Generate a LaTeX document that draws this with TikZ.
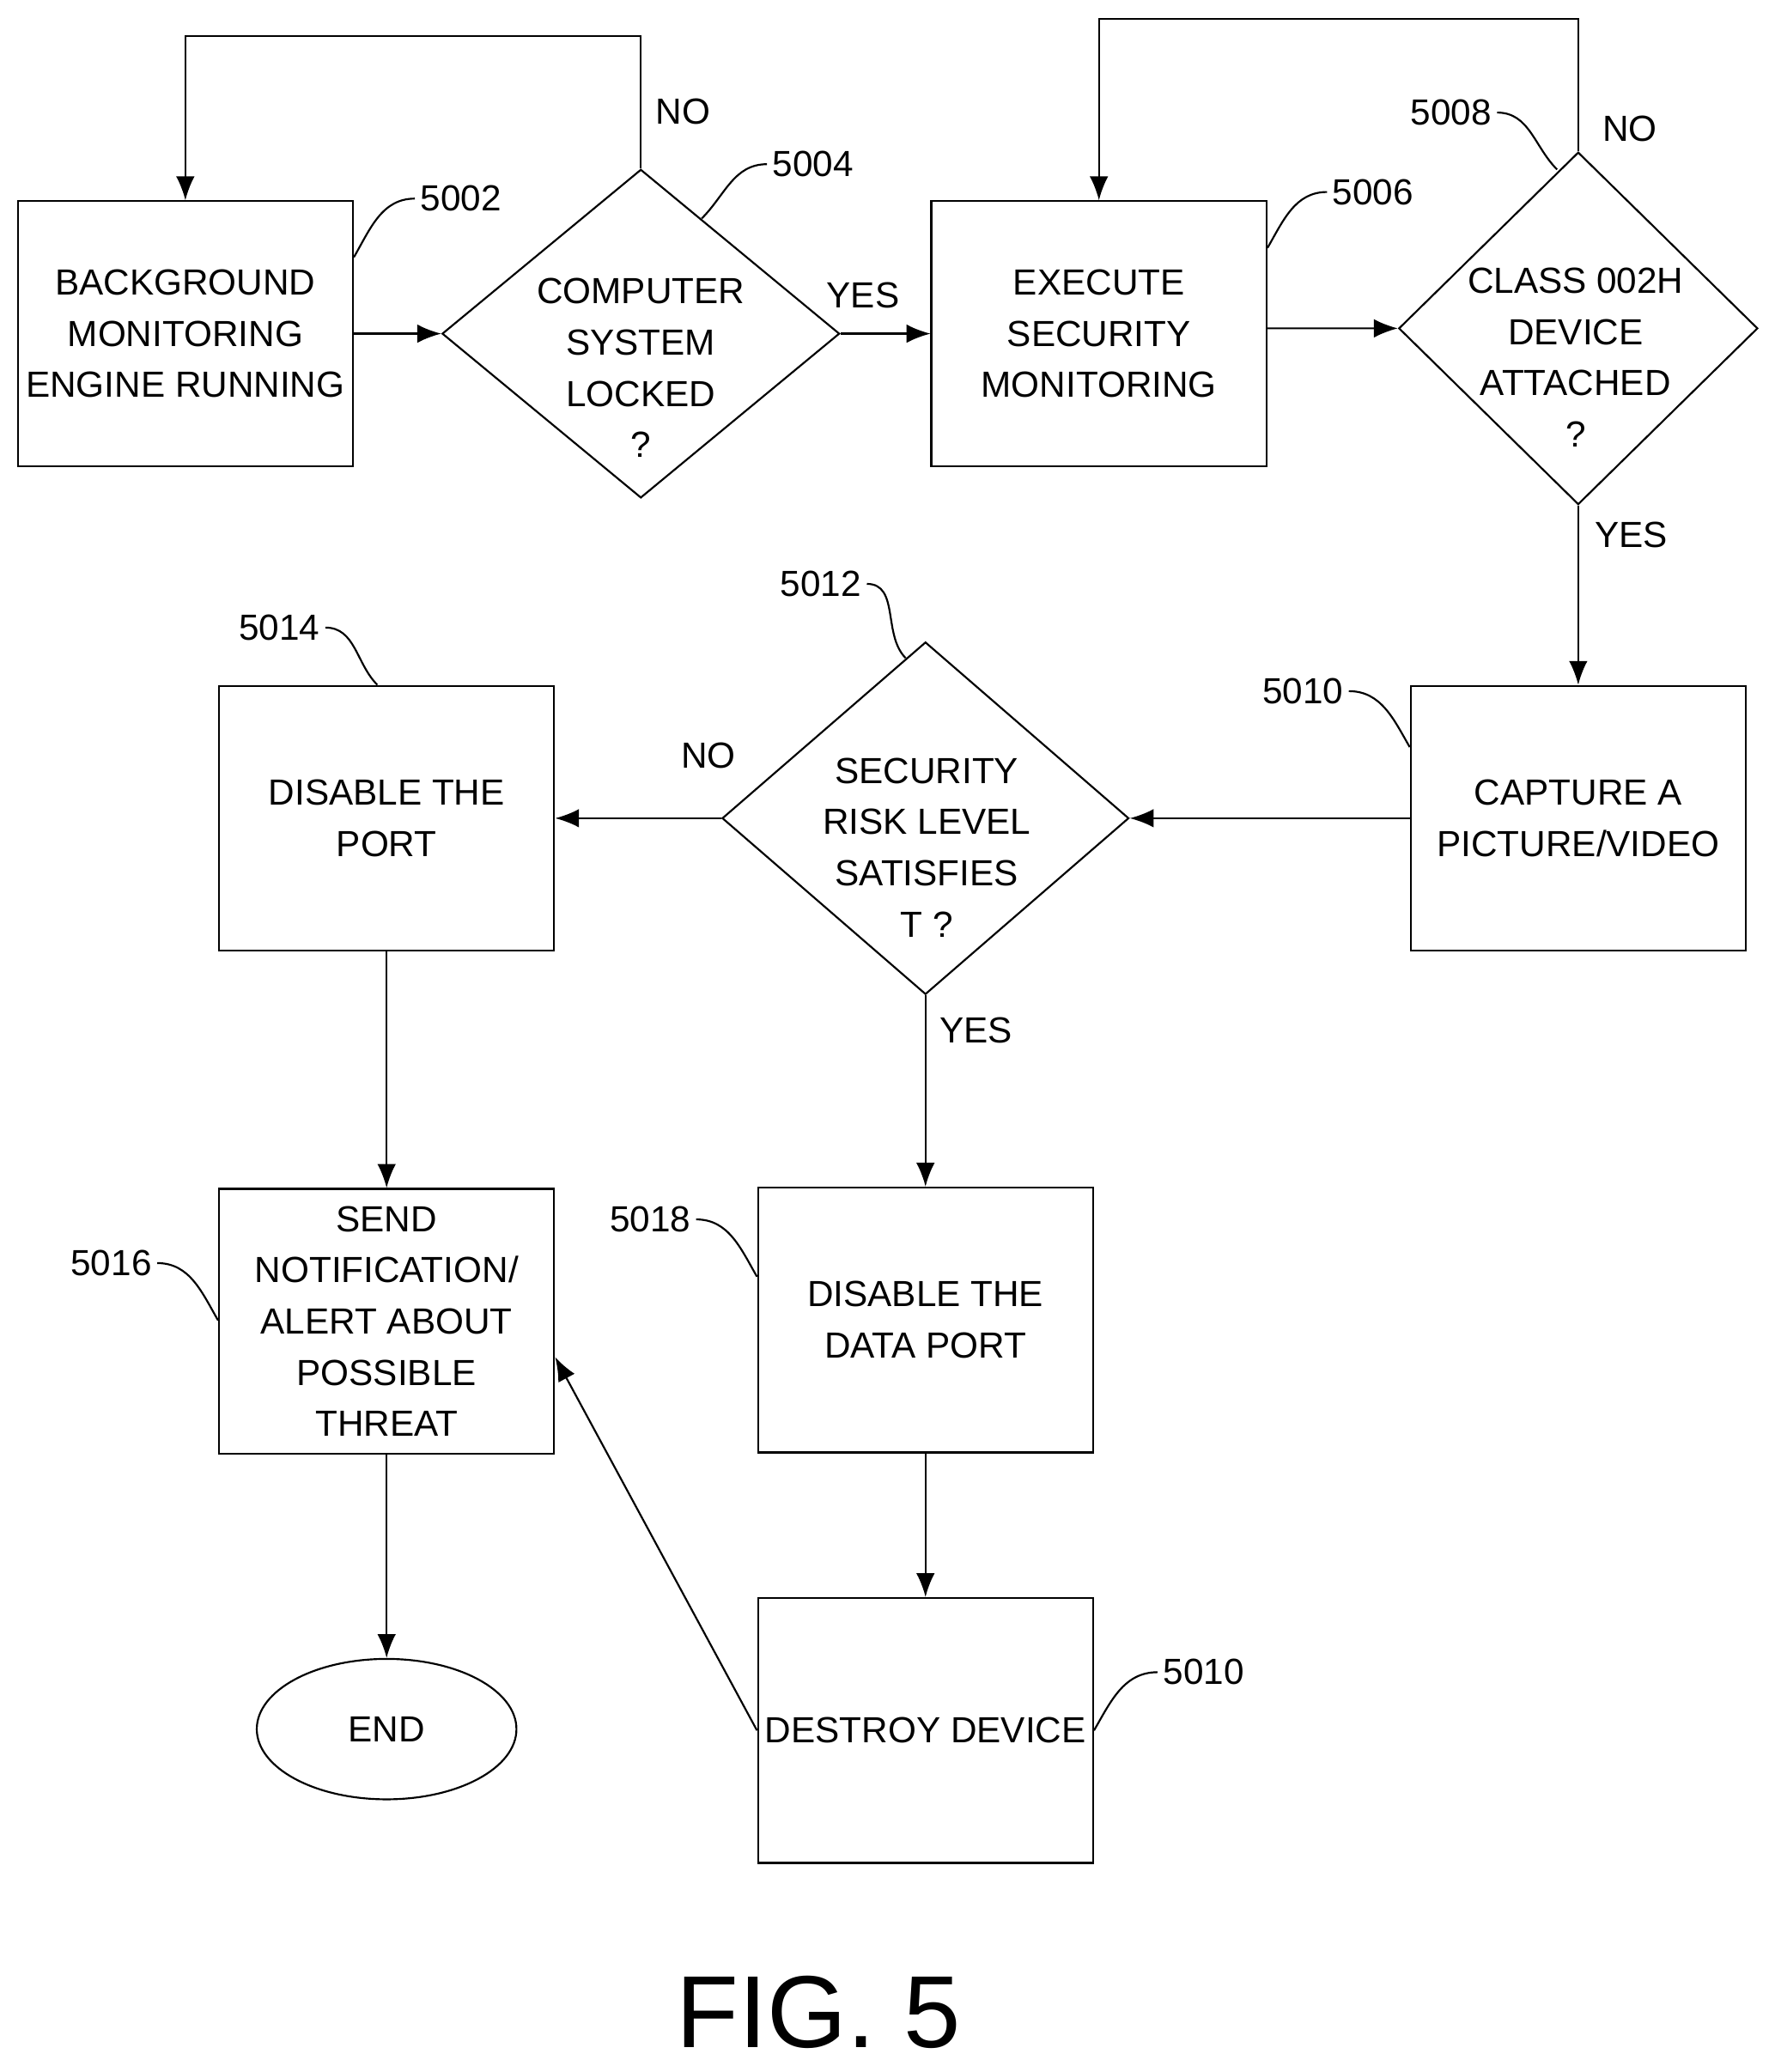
\documentclass[tikz,border=0pt]{standalone}
\usepackage{fontspec}
\setmainfont{Liberation Sans}
\usetikzlibrary{shapes.geometric,arrows.meta}

\begin{document}
\begin{tikzpicture}[x=0.01cm, y=-0.01cm,
	box/.style={rectangle, draw=black, minimum width=2.53cm, minimum height=2cm, inner sep=1pt, align=center, font=\fontsize{7.8}{11}\selectfont},
	dia/.style={diamond, draw=black, inner sep=0pt},
	txt/.style={align=center, font=\fontsize{7.8}{11}\selectfont},
	ref/.style={font=\fontsize{7.8}{10}\selectfont, inner sep=1pt},
	lead/.style={draw=black},
	arr/.style={-{Latex[length=1.8mm,width=1.4mm]}}
	]
	\useasboundingbox (0,0) rectangle (1340,1565);

	\node (monitor) [box] at (140,252) {BACKGROUND\\MONITORING\\ENGINE RUNNING};
	\node (locked) [dia, minimum width=3cm, minimum height=2.48cm] at (484,252) {};
		\node (lockedtxt) [txt] at (484,278) {COMPUTER\\SYSTEM\\LOCKED\\?};
	\node (execute) [box] at (830,252) {EXECUTE\\SECURITY\\MONITORING};
	\node (classdev) [dia, minimum width=2.71cm, minimum height=2.66cm] at (1192,248) {};
		\node (classdevtxt) [txt] at (1190,270) {CLASS 002H\\DEVICE\\ATTACHED\\?};
	\node (capture) [box] at (1192,618) {CAPTURE A\\PICTURE/VIDEO};
	\node (risk) [dia, minimum width=3.07cm, minimum height=2.66cm] at (699,618) {};
		\node (risktxt) [txt] at (700,640) {SECURITY\\RISK LEVEL\\SATISFIES\\T ?};
	\node (disport) [box] at (292,618) {DISABLE THE\\PORT};
	\node (notify) [box] at (292,998) {SEND\\NOTIFICATION/\\ALERT ABOUT\\POSSIBLE\\THREAT};
	\node (disdata) [box] at (699,997) {DISABLE THE\\DATA PORT};
	\node (destroy) [box] at (699,1307) {DESTROY DEVICE};
	\node (end) [ellipse, draw=black, minimum width=1.96cm, minimum height=1.06cm, txt] at (292,1306) {END};

	\node (fig) [font=\fontsize{22}{26}\selectfont] at (618,1520) {FIG. 5};

	% reference numerals
	\node (r5002) [ref] at (348,150) {5002};
	\node (r5004) [ref] at (614,124) {5004};
	\node (r5006) [ref] at (1037,145) {5006};
	\node (r5008) [ref] at (1096,85) {5008};
	\node (r5010) [ref] at (984,522) {5010};
	\node (r5012) [ref] at (620,441) {5012};
	\node (r5014) [ref] at (211,474) {5014};
	\node (r5016) [ref] at (84,954) {5016};
	\node (r5018) [ref] at (491,921) {5018};
	\node (r5010b) [ref] at (909,1263) {5010};

	\draw [lead] (r5002.west) to[out=180,in=60] ([yshift=-0.43cm]monitor.north east);
	\draw [lead] (r5004.west) to[out=180,in=45] (530,165);
	\draw [lead] (r5006.west) to[out=180,in=60] ([yshift=-0.36cm]execute.north east);
	\draw [lead] (r5008.east) to[out=0,in=135] (1176,128);
	\draw [lead] (r5010.east) to[out=0,in=120] ([yshift=-0.47cm]capture.north west);
	\draw [lead] (r5012.east) to[out=0,in=135] (684,497);
	\draw [lead] (r5014.east) to[out=0,in=135] ([xshift=-2]disport.north);
	\draw [lead] (r5016.east) to[out=0,in=120] ([yshift=-1cm]notify.north west);
	\draw [lead] (r5018.east) to[out=0,in=120] ([yshift=-0.68cm]disdata.north west);
	\draw [lead] (r5010b.west) to[out=180,in=60] (destroy.east);

	% connectors
	\draw [arr] (monitor.east)--(locked.west);
	\draw [arr] (locked.east)--(execute.west) node [txt, pos=0.25, above=2pt] {YES};
	\draw [arr] (locked.north)--++(0,-100)-| (monitor.north);
	\node [txt] at (516,84) {NO};
	\draw [arr] ([yshift=0.04cm]execute.east)--(classdev.west);
	\draw [arr] (classdev.north)--++(0,-100)-| (execute.north);
	\node [txt] at (1231,97) {NO};
	\draw [arr] (classdev.south)--(capture.north);
	\node [txt] at (1232,404) {YES};
	\draw [arr] (capture.west)--(risk.east);
	\draw [arr] (risk.west)--(disport.east);
	\node [txt] at (535,571) {NO};
	\draw [arr] (risk.south)--(disdata.north);
	\node [txt] at (737,778) {YES};
	\draw [arr] (disport.south)--(notify.north);
	\draw [arr] (disdata.south)--(destroy.north);
	\draw [arr] (destroy.west)--([yshift=-0.27cm]notify.east);
	\draw [arr] (notify.south)--(end.north);
\end{tikzpicture}
\end{document}
